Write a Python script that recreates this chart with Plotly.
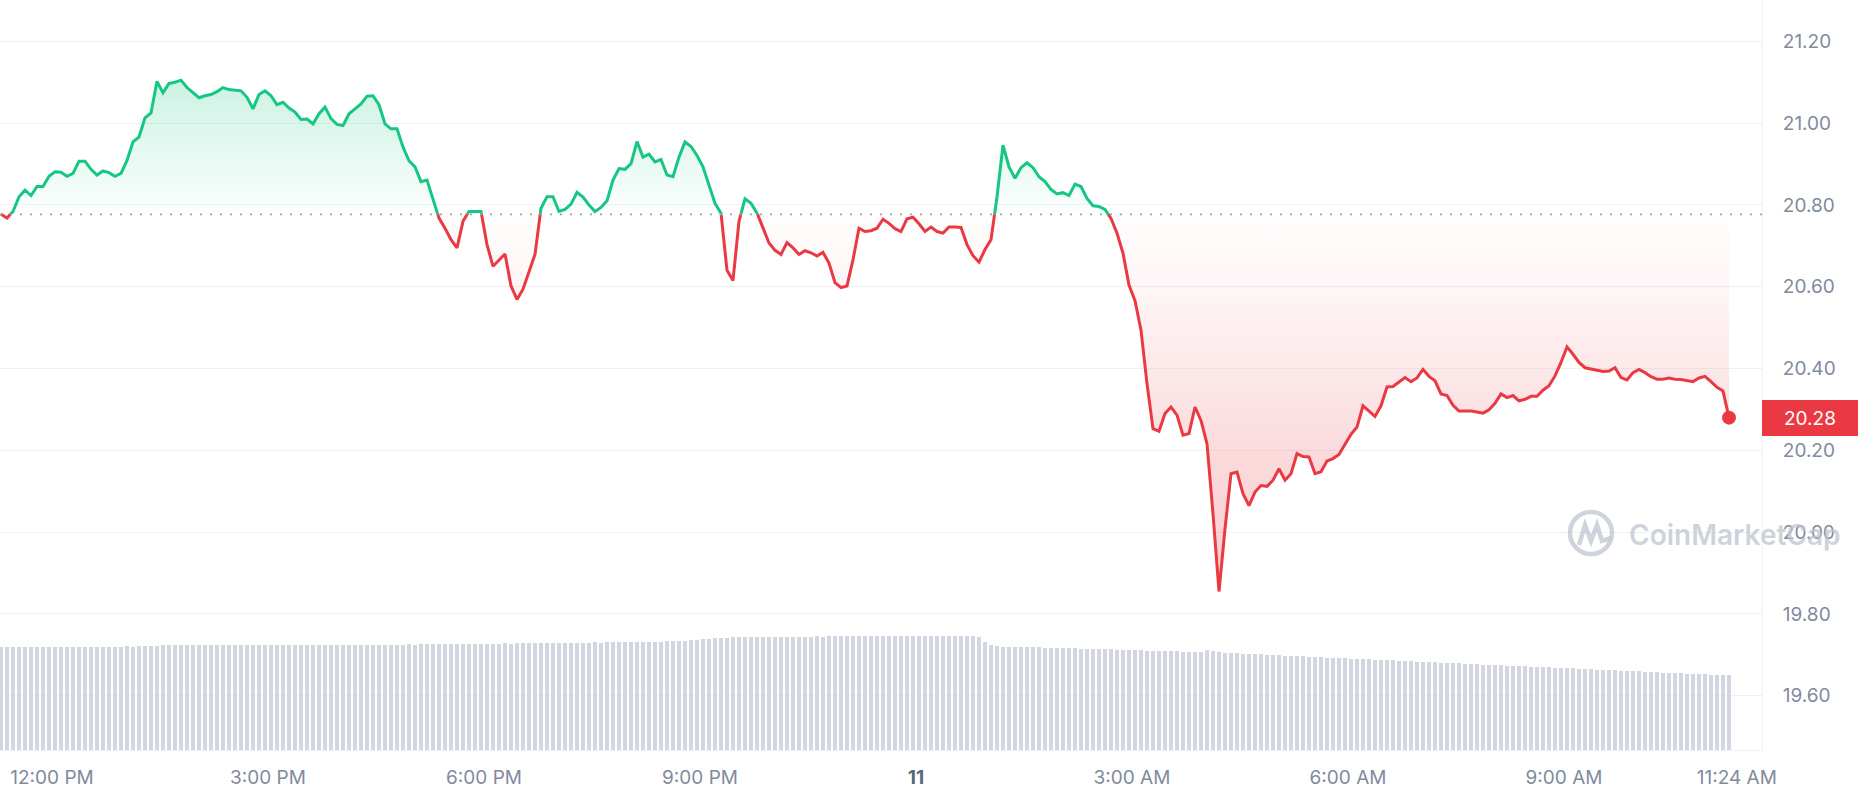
import pandas as pd
import plotly.graph_objects as go

# ---------------- data ----------------
price = [
    20.777, 20.768, 20.784, 20.820, 20.836, 20.823, 20.845, 20.845, 20.870, 20.881,
    20.880, 20.870, 20.877, 20.907, 20.907, 20.887, 20.873, 20.883, 20.879, 20.870,
    20.877, 20.909, 20.954, 20.966, 21.013, 21.025, 21.102, 21.074, 21.097, 21.100,
    21.105, 21.087, 21.075, 21.062, 21.067, 21.070, 21.077, 21.087, 21.082, 21.081,
    21.079, 21.063, 21.035, 21.070, 21.079, 21.067, 21.045, 21.051, 21.037, 21.027,
    21.009, 21.010, 20.998, 21.023, 21.039, 21.011, 20.997, 20.994, 21.023, 21.035,
    21.047, 21.066, 21.067, 21.045, 20.998, 20.986, 20.986, 20.942, 20.908, 20.893,
    20.857, 20.861, 20.812, 20.768, 20.743, 20.715, 20.695, 20.760, 20.784, 20.784,
    20.784, 20.703, 20.650, 20.666, 20.680, 20.602, 20.569, 20.594, 20.638, 20.679,
    20.792, 20.820, 20.820, 20.784, 20.789, 20.802, 20.831, 20.819, 20.800, 20.784,
    20.794, 20.810, 20.861, 20.889, 20.887, 20.901, 20.955, 20.917, 20.924, 20.905,
    20.911, 20.873, 20.869, 20.917, 20.954, 20.943, 20.921, 20.893, 20.849, 20.804,
    20.780, 20.640, 20.615, 20.760, 20.815, 20.804, 20.781, 20.742, 20.707, 20.689,
    20.679, 20.708, 20.695, 20.679, 20.688, 20.683, 20.675, 20.684, 20.658, 20.610,
    20.598, 20.602, 20.666, 20.743, 20.735, 20.737, 20.743, 20.765, 20.755, 20.742,
    20.735, 20.766, 20.770, 20.754, 20.735, 20.746, 20.735, 20.731, 20.746, 20.746,
    20.745, 20.703, 20.676, 20.660, 20.691, 20.715, 20.820, 20.946, 20.893, 20.865,
    20.891, 20.903, 20.891, 20.869, 20.857, 20.838, 20.827, 20.830, 20.823, 20.851,
    20.845, 20.816, 20.798, 20.796, 20.789, 20.767, 20.731, 20.682, 20.604, 20.566,
    20.494, 20.363, 20.253, 20.247, 20.290, 20.306, 20.286, 20.237, 20.241, 20.306,
    20.273, 20.216, 20.045, 19.855, 20.008, 20.143, 20.147, 20.094, 20.065, 20.098,
    20.114, 20.112, 20.127, 20.155, 20.127, 20.143, 20.192, 20.185, 20.184, 20.143,
    20.148, 20.174, 20.180, 20.190, 20.215, 20.239, 20.257, 20.309, 20.296, 20.283,
    20.309, 20.355, 20.356, 20.366, 20.378, 20.368, 20.377, 20.398, 20.381, 20.370,
    20.338, 20.334, 20.310, 20.296, 20.296, 20.296, 20.294, 20.291, 20.299, 20.315,
    20.338, 20.329, 20.334, 20.321, 20.325, 20.332, 20.332, 20.347, 20.358, 20.382,
    20.415, 20.453, 20.435, 20.415, 20.402, 20.399, 20.397, 20.393, 20.394, 20.402,
    20.378, 20.372, 20.390, 20.398, 20.390, 20.380, 20.374, 20.374, 20.377, 20.374,
    20.373, 20.370, 20.368, 20.377, 20.381, 20.368, 20.354, 20.345, 20.280,
]

volume = [
    96.0, 96.1, 96.0, 96.2, 96.1, 96.0, 96.1, 96.2, 96.0, 96.1, 96.2, 96.1, 96.0, 96.2, 96.3, 96.2, 96.1, 96.3, 96.4,
    96.6, 96.5, 96.7, 96.6, 96.8, 96.7, 96.9, 97.2,
    97.8, 98.0, 98.1, 97.9, 98.0, 98.2, 98.1, 98.0, 97.9, 98.1, 98.2, 98.0, 98.1, 98.3, 98.2, 98.0, 98.1, 98.2, 98.3, 98.1,
    98.0, 98.2, 98.3, 98.1, 98.2, 98.0, 98.1, 98.3, 98.2, 98.1, 98.0, 98.2, 98.3, 98.4, 98.2, 98.1, 98.3, 98.4, 98.2, 98.3,
    98.4, 98.5, 98.3, 98.6, 98.5, 98.7, 98.6, 98.8, 98.7, 98.9, 99.0, 98.9, 99.1,
    99.2, 99.3, 99.2, 99.4, 99.5, 99.4, 99.6, 99.5, 99.7, 99.8, 99.7, 99.9, 100.0, 99.9, 100.1, 100.0, 100.2, 100.3, 100.2,
    100.4, 100.3, 100.5, 100.4, 100.6, 100.5, 100.7, 100.8, 100.7, 100.9, 101.0, 101.2, 101.4, 101.6, 101.9, 102.2, 102.6,
    103.0, 103.5,
    104.0, 104.4, 104.7, 105.0, 105.1, 105.2, 105.3, 105.2, 105.4, 105.5, 105.4, 105.6, 105.5, 105.7, 105.6, 105.8, 105.7,
    105.9, 106.0, 105.9, 106.1, 106.0, 106.2, 106.1, 106.3, 106.2, 106.1, 106.3, 106.2, 106.4, 106.3, 106.2, 106.4, 106.3,
    106.5, 106.4, 106.3, 106.5, 106.4, 106.6, 106.5, 106.4, 106.3, 106.2, 106.0, 105.6,
    101.0, 98.0,
    96.8, 96.6, 96.5, 96.3, 96.2, 96.0, 95.9, 95.7, 95.6, 95.4, 95.3, 95.1, 95.0, 94.8, 94.7, 94.5, 94.4, 94.2, 94.1, 93.9,
    93.8, 93.6,
    93.4, 93.2, 93.0, 92.8, 92.7, 92.5, 92.3, 92.2, 92.0, 91.9, 91.7, 91.6, 91.5,
    93.0, 92.5,
    91.5, 91.0, 90.6, 90.3, 90.0, 89.8, 89.5, 89.2, 89.0, 88.7, 88.4, 88.2, 87.9, 87.6,
    87.3, 87.1, 86.8, 86.6, 86.3, 86.1, 85.8, 85.6, 85.3, 85.1, 84.8, 84.6, 84.3, 84.1, 83.8, 83.6, 83.3, 83.1, 82.8, 82.6,
    82.3, 82.1, 81.8, 81.6, 81.3, 81.1, 80.8, 80.6, 80.3, 80.1, 79.8, 79.6, 79.3, 79.1, 78.8, 78.6, 78.3, 78.1, 77.8, 77.6,
    77.3, 77.1, 76.8, 76.6, 76.3, 76.1, 75.8, 75.6, 75.3, 75.1, 74.8, 74.6, 74.3, 74.1, 73.8, 73.6, 73.3, 73.1, 72.8,
    72.6, 72.3, 72.1, 71.8, 71.6, 71.3, 71.1, 70.8, 70.6, 70.3, 70.1, 69.8, 69.6,
]

open_price = 20.777
start_time = "2024-01-10 11:17:30"
step_minutes = 5

y_tick_values = [19.6, 19.8, 20.0, 20.2, 20.4, 20.6, 20.8, 21.0, 21.2]
y_tick_labels = ["19.60", "19.80", "20.00", "20.20", "20.40", "20.60", "20.80", "21.00", "21.20"]

x_tick_times = ["2024-01-10 12:00", "2024-01-10 15:00", "2024-01-10 18:00", "2024-01-10 21:00",
                "2024-01-11 00:00", "2024-01-11 03:00", "2024-01-11 06:00", "2024-01-11 09:00",
                "2024-01-11 11:24"]
x_tick_labels = ["12:00 PM", "3:00 PM", "6:00 PM", "9:00 PM",
                 "<span style='color:#58667e'><b>11</b></span>",
                 "3:00 AM", "6:00 AM", "9:00 AM", "11:24 AM"]

# ---------------- styling ----------------
GREEN = "#16c784"
RED = "#ea3943"
GRID = "#eff2f5"
LABEL = "#808a9d"
FONT = "Inter, 'Noto Sans', sans-serif"

W, H = 1858, 800
ML, MR, MT, MB = 0, 96, 0, 50
PW, PH = W - ML - MR, H - MT - MB

t0 = pd.Timestamp(start_time)
n = len(price)
times = pd.date_range(t0, periods=n, freq=f"{step_minutes}min")
x_start = t0 - pd.Timedelta(seconds=50)
x_end = t0 + pd.Timedelta(minutes=1467.5)

# split line at crossings of the open price
tn = times.asi8.astype(float)
xs, ys = [], []
for k in range(n):
    if k > 0:
        a, b = price[k - 1], price[k]
        if (a - open_price) * (b - open_price) < 0:
            f = (open_price - a) / (b - a)
            xs.append(tn[k - 1] + f * (tn[k] - tn[k - 1]))
            ys.append(open_price)
    xs.append(tn[k])
    ys.append(price[k])
xs = pd.to_datetime(pd.Series(xs).astype("int64"))
xs_list = list(xs)

up_line = [y if y >= open_price else None for y in ys]
dn_line = [y if y <= open_price else None for y in ys]
up_fill = [max(y, open_price) for y in ys]
dn_fill = [min(y, open_price) for y in ys]

fig = go.Figure()

# volume bars
nv = min(len(volume), n)
fig.add_trace(go.Bar(
    x=times[:nv], y=volume[:nv], yaxis="y2",
    marker=dict(color="#d1d6e1", line=dict(width=0)),
    width=200000, hoverinfo="skip",
))

# gradient fills
fig.add_trace(go.Scatter(
    x=xs_list + xs_list[::-1], y=up_fill + [open_price] * len(xs_list),
    fill="toself", mode="lines", line=dict(width=0), hoverinfo="skip",
    fillgradient=dict(type="vertical", start=open_price, stop=max(price),
                      colorscale=[[0, "rgba(22,199,132,0.01)"], [0.4, "rgba(22,199,132,0.10)"],
                                  [1, "rgba(22,199,132,0.22)"]]),
))
fig.add_trace(go.Scatter(
    x=xs_list + xs_list[::-1], y=dn_fill + [open_price] * len(xs_list),
    fill="toself", mode="lines", line=dict(width=0), hoverinfo="skip",
    fillgradient=dict(type="vertical", start=min(price), stop=open_price,
                      colorscale=[[0, "rgba(234,57,67,0.25)"], [0.35, "rgba(234,57,67,0.19)"],
                                  [0.6, "rgba(234,57,67,0.11)"], [0.8, "rgba(234,57,67,0.05)"],
                                  [1, "rgba(234,57,67,0.01)"]]),
))

# lines
fig.add_trace(go.Scatter(x=xs_list, y=up_line, mode="lines", connectgaps=False,
                         line=dict(color=GREEN, width=3), hoverinfo="skip"))
fig.add_trace(go.Scatter(x=xs_list, y=dn_line, mode="lines", connectgaps=False,
                         line=dict(color=RED, width=3), hoverinfo="skip"))

# last price dot
fig.add_trace(go.Scatter(x=[times[-1]], y=[price[-1]], mode="markers",
                         marker=dict(color=RED, size=14), hoverinfo="skip"))

# dotted open-price line
fig.add_shape(type="line", xref="paper", yref="y", x0=0, x1=1, y0=open_price, y1=open_price,
              line=dict(color="#9aa1ad", width=1.6, dash="2px,8px"), layer="above")

# last price tag
fig.add_annotation(xref="paper", yref="y", x=1, y=price[-1], xanchor="left", yanchor="middle",
                   text=f"{price[-1]:.2f}", showarrow=False, bgcolor=RED, borderwidth=0,
                   font=dict(color="white", size=19, family=FONT),
                   width=92, height=32, borderpad=2, align="center")

# watermark
def px(xp, yp):
    return (xp - ML) / PW, (H - MB - yp) / PH

wm_x, wm_y = px(1627, 535)
fig.add_annotation(xref="paper", yref="paper", x=wm_x, y=wm_y, xanchor="left", yanchor="middle",
                   text="CoinMarketCap", showarrow=False,
                   font=dict(color="rgba(190,196,208,0.75)", size=28, family=FONT, weight=600))
cx0, cy0 = px(1570, 554)
cx1, cy1 = px(1612, 512)
fig.add_shape(type="circle", xref="paper", yref="paper", x0=cx0, y0=cy0, x1=cx1, y1=cy1,
              line=dict(color="rgba(190,196,208,0.75)", width=4.5), layer="above")
m_pts = [(1579, 545), (1585, 525), (1591, 541), (1597, 525), (1602, 541), (1611, 538)]
path = ""
for j, (a, b) in enumerate(m_pts):
    pxv, pyv = px(a, b)
    path += ("M" if j == 0 else "L") + f"{pxv:.5f},{pyv:.5f} "
fig.add_shape(type="path", xref="paper", yref="paper", path=path,
              line=dict(color="rgba(190,196,208,0.75)", width=4.5), layer="above")

fig.update_layout(
    width=W, height=H, autosize=False,
    margin=dict(l=ML, r=MR, t=MT, b=MB, pad=0),
    paper_bgcolor="white", plot_bgcolor="white",
    showlegend=False, hovermode=False, bargap=0,
    font=dict(family=FONT, color=LABEL, size=19),
    xaxis=dict(type="date", range=[x_start, x_end], tickmode="array",
               tickvals=pd.to_datetime(x_tick_times), ticktext=x_tick_labels,
               showgrid=False, zeroline=False, showline=True, linecolor=GRID,
               ticks="", tickfont=dict(size=19, color=LABEL, family=FONT),
               ticklabelstandoff=10, fixedrange=True),
    yaxis=dict(side="right", range=[19.4675, 21.301], tickmode="array",
               tickvals=y_tick_values, ticktext=y_tick_labels,
               showgrid=True, gridcolor=GRID, gridwidth=1, zeroline=False,
               showline=True, linecolor=GRID, ticks="",
               tickfont=dict(size=19, color=LABEL, family=FONT),
               ticklabelstandoff=16, fixedrange=True),
    yaxis2=dict(overlaying="y", range=[0, 700], visible=False, fixedrange=True),
)

fig.write_html("out.html", config={"displayModeBar": False},
               post_script="document.body.style.margin='0';document.body.style.overflow='hidden';")
